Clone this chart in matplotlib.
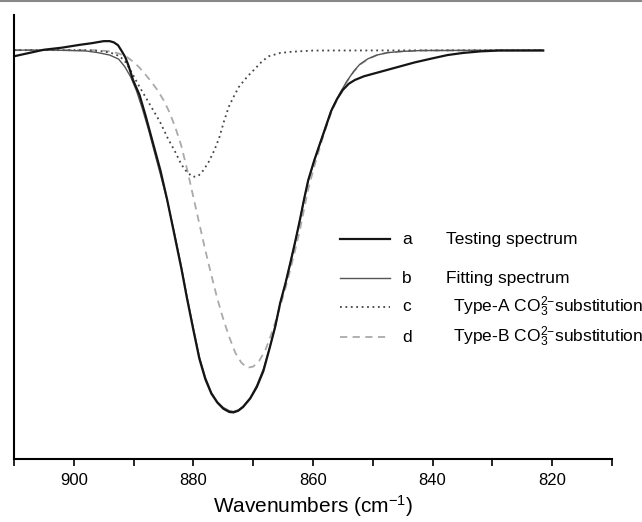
import matplotlib
matplotlib.use("Agg")
import matplotlib.pyplot as plt
from matplotlib.lines import Line2D
from matplotlib.ticker import MultipleLocator

plt.rcParams['font.family'] = ['Liberation Sans', 'DejaVu Sans']
plt.rcParams['mathtext.fontset'] = 'custom'
plt.rcParams['mathtext.rm'] = 'Liberation Sans'
plt.rcParams['mathtext.it'] = 'Liberation Sans:italic'

# a: testing spectrum
wn_a = [910.0, 907.5, 905.0, 902.0, 899.0, 897.0, 895.0, 894.0, 893.3, 892.6, 892.0,
        891.4, 890.8, 890.1, 889.0, 888.0, 886.8, 885.5, 884.4, 883.2, 882.0, 881.1,
        880.0, 879.0, 878.0, 877.0, 876.0, 875.0, 874.0, 873.3, 872.5, 871.7, 870.5,
        869.4, 868.3, 867.2, 866.3, 865.5, 864.6, 863.8, 863.0, 862.2, 861.5, 860.8,
        859.8, 858.8, 857.8, 857.0, 856.0, 855.0, 854.0, 853.0, 851.5, 849.5, 847.5,
        845.5, 843.0, 840.0, 837.5, 835.0, 832.0, 829.0, 821.5]
int_a = [98.5, 99.3, 100.1, 100.6, 101.3, 101.7, 102.2, 102.2, 101.9, 101.2, 99.8,
         98.3, 96.0, 92.7, 89.0, 84.0, 77.5, 70.5, 63.5, 55.0, 46.5, 39.5,
         31.5, 24.5, 19.5, 16.0, 13.8, 12.3, 11.5, 11.4, 11.8, 12.7, 14.8,
         17.6, 21.5, 27.4, 32.5, 38.1, 43.0, 47.9, 53.0, 58.4, 63.5, 68.2,
         73.0, 77.3, 81.5, 85.0, 88.0, 90.3, 91.8, 92.7, 93.6, 94.4, 95.2,
         96.0, 97.0, 98.0, 98.8, 99.3, 99.7, 99.9, 99.9]

# b: fitting spectrum
wn_b = [910.0, 903.0, 898.0, 896.0, 894.0, 892.5, 891.5, 890.5, 889.5, 888.5, 887.5,
        886.5, 885.5, 884.4, 883.2, 882.0, 881.1, 880.0, 879.0, 878.0, 877.0, 876.0,
        875.0, 874.0, 873.3, 872.5, 871.7, 870.5, 869.4, 868.3, 867.2, 866.3, 865.5,
        864.6, 863.8, 863.0, 862.2, 861.5, 860.8, 859.8, 858.8, 857.8, 856.8, 855.5,
        854.3, 853.2, 852.2, 850.8, 849.3, 847.5, 845.0, 842.0, 821.5]
int_b = [100.0, 100.0, 99.8, 99.4, 98.8, 97.8, 96.0, 93.5, 90.0, 85.5, 80.5,
         75.0, 69.5, 63.3, 55.5, 47.0, 40.0, 32.0, 25.0, 20.0, 16.3, 14.0,
         12.6, 11.8, 11.6, 12.0, 12.9, 15.0, 18.0, 22.0, 27.5, 32.5, 38.0,
         43.0, 48.0, 53.0, 58.4, 63.5, 68.0, 73.0, 77.3, 81.8, 85.8, 89.5,
         92.5, 94.8, 96.5, 97.9, 98.8, 99.4, 99.7, 99.9, 100.0]

# c: Type-A CO3 substitution
wn_c = [910.0, 898.0, 895.0, 893.5, 892.3, 891.3, 890.3, 889.2, 888.0, 886.8, 885.6,
        884.3, 883.0, 882.0, 881.1, 880.1, 879.2, 878.4, 877.5, 876.5, 875.7, 874.9,
        874.1, 873.2, 872.4, 871.0, 869.6, 868.5, 867.4, 865.5, 863.6, 860.0, 821.5]
int_c = [100.0, 100.0, 99.7, 99.2, 98.5, 97.0, 94.5, 91.5, 88.5, 85.5, 82.5,
         78.5, 75.0, 72.0, 70.2, 69.0, 69.2, 70.5, 72.5, 75.5, 78.5, 82.5,
         86.1, 88.8, 91.0, 93.5, 95.6, 97.3, 98.5, 99.3, 99.6, 99.9, 100.0]

# d: Type-B CO3 substitution
wn_d = [910.0, 896.0, 894.0, 892.5, 891.0, 890.0, 889.0, 888.0, 887.0, 886.0, 885.0,
        884.0, 883.0, 882.0, 881.0, 880.0, 879.0, 878.0, 877.0, 876.0, 875.0, 874.0,
        873.0, 872.0, 871.0, 870.0, 869.0, 868.0, 867.2, 866.3, 865.5, 864.6, 863.8,
        863.0, 862.2, 861.5, 860.8, 859.8, 858.8, 857.8, 856.8, 855.5, 854.3, 853.2,
        852.2, 850.8, 849.3, 847.5, 845.0, 842.0, 821.5]
int_d = [100.0, 100.0, 99.7, 99.2, 98.2, 97.1, 95.7, 94.0, 92.2, 90.2, 87.8,
         84.8, 81.0, 76.5, 70.5, 64.0, 57.5, 51.0, 45.0, 39.2, 34.2, 29.8,
         26.0, 23.6, 22.3, 22.6, 24.0, 26.5, 29.6, 33.5, 37.3, 41.8, 46.3,
         51.0, 56.0, 61.0, 66.0, 71.5, 76.5, 81.2, 85.3, 89.3, 92.3, 94.7,
         96.4, 97.8, 98.8, 99.4, 99.7, 99.9, 100.0]

labels = ['Testing spectrum', 'Fitting spectrum',
          r'Type-A CO$_3^{2\mathrm{-}}$substitution', r'Type-B CO$_3^{2\mathrm{-}}$substitution']
letters = ['a', 'b', 'c', 'd']

fig = plt.figure(figsize=(6.42, 5.22), dpi=100)
ax = fig.add_axes([0.0218, 0.1207, 0.9315, 0.8506])

sty = [dict(color='#151515', lw=1.6, ls='-'),
       dict(color='#555555', lw=1.0, ls='-'),
       dict(color='#444444', lw=1.3, ls=(0, (1, 2))),
       dict(color='#aaaaaa', lw=1.3, ls=(0, (4, 3)))]

ax.plot(wn_d, int_d, **sty[3])
ax.plot(wn_c, int_c, **sty[2])
ax.plot(wn_b, int_b, **sty[1])
ax.plot(wn_a, int_a, **sty[0])

ax.set_xlim(910, 810)
ax.set_ylim(0, 108.6)
ax.xaxis.set_major_locator(MultipleLocator(20))
ax.xaxis.set_minor_locator(MultipleLocator(10))
ax.tick_params(axis='x', which='both', direction='out', length=5, width=1.2, labelsize=12, pad=5)
ax.set_yticks([])
for s in ['top', 'right']:
    ax.spines[s].set_visible(False)
for s in ['left', 'bottom']:
    ax.spines[s].set_linewidth(1.5)
ax.set_xlabel(r'Wavenumbers (cm$^{-1}$)', fontsize=15, labelpad=4)

# legend drawn by hand
ys = [0.5421, 0.4674, 0.4119, 0.3544]
for i in range(4):
    fig.add_artist(Line2D([0.5296, 0.6075], [ys[i], ys[i]], transform=fig.transFigure, **sty[i]))
    fig.text(0.626, ys[i], letters[i], fontsize=12.5, va='center', ha='left')
    tx = 0.695 if i < 2 else 0.7056
    fig.text(tx, ys[i], labels[i], fontsize=12.5, va='center', ha='left')

# gray line at the top edge
fig.add_artist(Line2D([0, 1], [0.998, 0.998], transform=fig.transFigure, color='#888888', lw=1.5))

fig.savefig('out.png', dpi=100)
